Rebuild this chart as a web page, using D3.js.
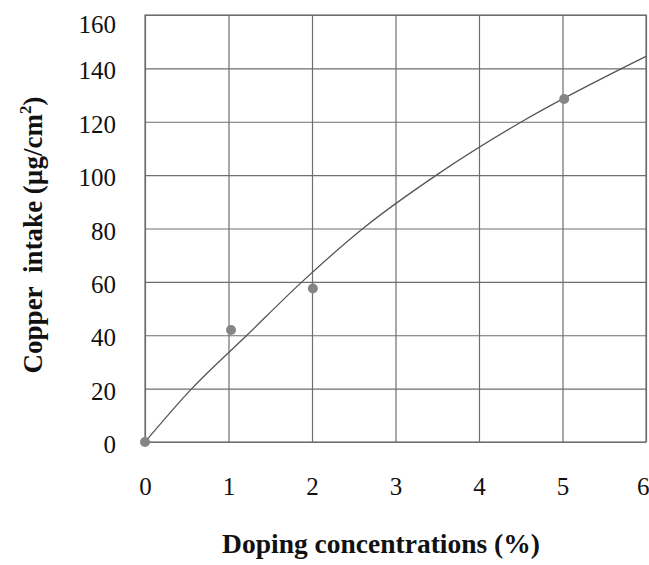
<!DOCTYPE html>
<html>
<head>
<meta charset="utf-8">
<script src="https://cdn.jsdelivr.net/npm/d3@7"></script>
<style>
  html, body { margin: 0; padding: 0; background: #fff; }
  svg { display: block; }
  text { font-family: "Liberation Serif", "Times New Roman", serif; fill: #111; }
</style>
</head>
<body>
<svg id="chart" width="649" height="565"></svg>
<script>
// Measured copper intake at each doping level
const dopingLevels = [0, 1.03, 2.01, 5.02];
const copperIntake = [0, 42, 57.5, 128.5];

// Fitted trend curve, sampled along its length
const fitX = [0, 0.56, 1.22, 1.88, 2.61, 3.49, 4.51, 6];
const fitY = [0, 20, 40, 60, 80, 100, 120, 144.5];

// Axis ticks
const xTicks = [0, 1, 2, 3, 4, 5, 6];
const yTicks = [0, 20, 40, 60, 80, 100, 120, 140, 160];

const xTitle = "Doping concentrations (%)";
const yTitleMain = "Copper\u00a0\u00a0intake (\u00b5g/cm";
const yTitleSup = "2";

const svg = d3.select("#chart");
const margin = { left: 145, right: 3, top: 15, bottom: 123 };
const W = 649, H = 565;

const x = d3.scaleLinear().domain([0, 6]).range([margin.left, W - margin.right]);
const y = d3.scaleLinear().domain([0, 160]).range([H - margin.bottom, margin.top]);

const gridColor = "#6e6e6e";

// Vertical gridlines
svg.append("g")
  .attr("transform", `translate(0,${y(0)})`)
  .call(d3.axisBottom(x).tickValues(xTicks).tickSize(-(y(0) - y(160))).tickFormat(""))
  .call(g => g.select(".domain").remove())
  .call(g => g.selectAll("line").attr("stroke", gridColor).attr("stroke-width", 1.2));

// Horizontal gridlines
svg.append("g")
  .attr("transform", `translate(${x(0)},0)`)
  .call(d3.axisLeft(y).tickValues(yTicks).tickSize(-(x(6) - x(0))).tickFormat(""))
  .call(g => g.select(".domain").remove())
  .call(g => g.selectAll("line").attr("stroke", gridColor).attr("stroke-width", 1.2));

// Plot frame
svg.append("rect")
  .attr("x", x(0)).attr("y", y(160))
  .attr("width", x(6) - x(0)).attr("height", y(0) - y(160))
  .attr("fill", "none").attr("stroke", gridColor).attr("stroke-width", 1.2);

// Tick labels: y axis
const yAxis = svg.append("g")
  .attr("transform", `translate(${x(0)},0)`)
  .call(d3.axisLeft(y).tickValues(yTicks).tickSize(0).tickPadding(29).tickFormat(d3.format("d")));
yAxis.select(".domain").remove();
yAxis.selectAll("text")
  .attr("font-family", "Liberation Serif")
  .attr("font-size", 25)
  .attr("fill", "#111")
  .attr("dy", d => d === 160 ? "0.68em" : "0.42em");

// Tick labels: x axis
const xAxis = svg.append("g")
  .attr("transform", `translate(0,${y(0)})`)
  .call(d3.axisBottom(x).tickValues(xTicks).tickSize(0).tickPadding(35).tickFormat(d3.format("d")));
xAxis.select(".domain").remove();
xAxis.selectAll("text")
  .attr("font-family", "Liberation Serif")
  .attr("font-size", 25)
  .attr("fill", "#111")
  .attr("text-anchor", d => d === 6 ? "end" : "middle")
  .attr("dx", d => d === 6 ? 3 : 0);

// Trend curve
const line = d3.line()
  .x(d => x(d[0]))
  .y(d => y(d[1]))
  .curve(d3.curveMonotoneX);
svg.append("path")
  .datum(fitX.map((v, i) => [v, fitY[i]]))
  .attr("d", line)
  .attr("fill", "none")
  .attr("stroke", "#555")
  .attr("stroke-width", 1.3);

// Measured points
svg.append("g")
  .selectAll("circle")
  .data(dopingLevels.map((v, i) => [v, copperIntake[i]]))
  .join("circle")
  .attr("cx", d => x(d[0]))
  .attr("cy", d => y(d[1]))
  .attr("r", 5)
  .attr("fill", "#858585");

// Axis titles
svg.append("text")
  .attr("x", 381)
  .attr("y", 553)
  .attr("text-anchor", "middle")
  .attr("font-weight", "bold")
  .attr("font-size", 27.5)
  .text(xTitle);

const yt = svg.append("text")
  .attr("transform", `translate(42,${235}) rotate(-90)`)
  .attr("text-anchor", "middle")
  .attr("font-weight", "bold")
  .attr("font-size", 27);
yt.append("tspan").text(yTitleMain);
yt.append("tspan").attr("dy", -11).attr("font-size", 17).text(yTitleSup);
yt.append("tspan").attr("dy", 11).text(")");
</script>
</body>
</html>
